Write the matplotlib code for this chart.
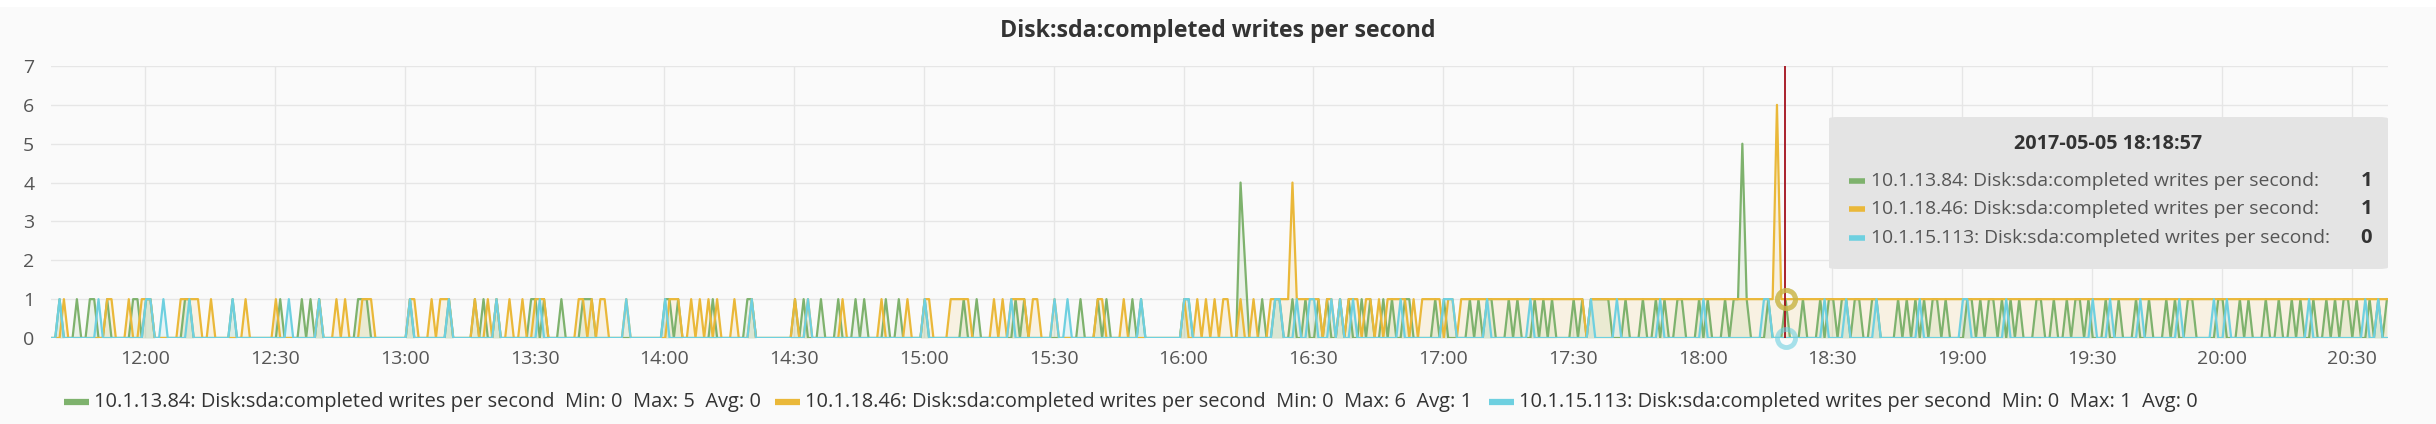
import numpy as np
import pandas as pd
import matplotlib
matplotlib.use('Agg')
import matplotlib.pyplot as plt
import matplotlib.dates as mdates
from matplotlib.patches import FancyBboxPatch, Rectangle
from matplotlib.lines import Line2D

plt.rcParams['font.family'] = ['Open Sans', 'DejaVu Sans']

W, H = 2436, 424
N = 541
START = '2017-05-05 11:38:10'
HOVER = '2017-05-05 18:18:57'
HOVER_IDX = 401

TITLE = 'Disk:sda:completed writes per second'
NAMES = ['10.1.13.84: Disk:sda:completed writes per second',
         '10.1.18.46: Disk:sda:completed writes per second',
         '10.1.15.113: Disk:sda:completed writes per second']
COLORS = ['#7eb26d', '#eab839', '#6ed0e0']
LEGEND_STATS = ['Min: 0  Max: 5  Avg: 0', 'Min: 0  Max: 6  Avg: 1', 'Min: 0  Max: 1  Avg: 0']
HOVER_VALUES = ['1', '1', '0']

# minute index (from 11:38) where the value is 1
green_ones = [2, 6, 9, 10, 13, 19, 20, 22, 23, 31, 32, 42, 53, 58, 60, 62, 71, 72, 73,
              83, 92, 98, 100, 103, 111, 112, 114, 118, 123, 124, 125, 142, 143, 145, 153,
              161, 162, 172, 174, 178, 182, 186, 188, 193, 196, 202, 211, 214, 223, 225,
              238, 242, 244, 250, 252, 262, 263, 280, 283, 284, 287, 290, 293, 295, 298,
              300, 303, 305, 308, 310, 313, 314, 320, 322, 328, 330, 332, 333, 337, 339,
              343, 345, 347, 352, 354, 356, 357, 358, 359, 360, 364, 368, 371, 373, 376,
              377, 381, 383, 387, 389, 390, 392, 397, 401, 405, 409, 411, 412, 414, 415,
              417, 418, 421, 422, 427, 429, 431, 433, 435, 436, 438, 443, 444, 446, 448,
              449, 451, 453, 455, 459, 460, 463, 466, 468, 469, 471, 475, 478, 482, 485,
              489, 491, 494, 495, 501, 502, 506, 508, 512, 515, 518, 520, 523, 526, 528,
              530, 531, 533, 536, 538, 540]
green_peaks = {275: 4, 276: 2, 391: 5}

orange_ones = [3, 13, 14, 18, 21, 22, 23, 30, 31, 32, 33, 34, 37, 45, 52, 62, 66, 68, 72,
               73, 74, 83, 84, 88, 90, 91, 92, 98, 101, 103, 106, 109, 112, 113, 114, 122,
               123, 125, 127, 128, 133, 143, 144, 145, 148, 150, 152, 154, 158, 162, 172,
               175, 183, 192, 198, 202, 203, 208, 209, 210, 211, 212, 218, 220, 222, 223,
               224, 225, 227, 228, 232, 242, 243, 248, 262, 265, 267, 269, 271, 272, 275,
               278]
orange_spans = [(282, 540)]
orange_zeros = [294, 297, 299, 303, 306, 308, 314, 316, 322, 325, 355]
orange_peaks = {287: 4, 399: 6}

cyan_ones = [2, 11, 22, 23, 26, 32, 42, 55, 62, 83, 92, 103, 113, 133, 142, 162, 175, 202,
             222, 232, 235, 252, 262, 263, 283, 284, 288, 291, 292, 296, 298, 301, 312, 322,
             323, 324, 332, 342, 356, 362, 372, 382, 396, 397, 410, 415, 422, 432, 442, 443,
             452, 472, 476, 483, 492, 500, 503, 522, 535, 538]


def build(ones, spans=(), zeros=(), peaks=None):
    v = np.zeros(N)
    for a, b in spans:
        v[a:b + 1] = 1
    v[ones] = 1
    v[list(zeros)] = 0
    for k, p in (peaks or {}).items():
        v[k] = p
    return v


series = [build(green_ones, peaks=green_peaks),
          build(orange_ones, orange_spans, orange_zeros, orange_peaks),
          build(cyan_ones)]
times = pd.date_range(START, periods=N, freq='60s')


def fx(px):
    return px / W


def fy(py):
    return 1 - py / H


fig = plt.figure(figsize=(W / 100, H / 100), dpi=100, facecolor='#fafafa')
renderer = fig.canvas.get_renderer()


def fit(texts, target_px):
    # scale font so the first text spans target_px, same size for the rest
    w = texts[0].get_window_extent(renderer).width
    size = texts[0].get_fontsize() * target_px / w
    for t in texts:
        t.set_fontsize(size)


fig.patches.append(Rectangle((0, fy(7)), 1, 7 / H, transform=fig.transFigure,
                             facecolor='white', edgecolor='none'))

ax = fig.add_axes([fx(51), fy(338), fx(2388) - fx(51), fy(66) - fy(338)])
ax.set_facecolor('#fafafa')

for v, c in zip(series, COLORS):
    ax.fill_between(times, 0, v, color=c, alpha=0.12, lw=0)
    ax.plot(times, v, color=c, lw=1.6)

ax.set_xlim(pd.Timestamp('2017-05-05 11:38:11'), pd.Timestamp('2017-05-05 20:38:25'))
ax.set_ylim(0, 7)
ax.set_yticks(range(8))
ax.xaxis.set_major_locator(mdates.MinuteLocator(byminute=[0, 30]))
ax.xaxis.set_major_formatter(mdates.DateFormatter('%H:%M'))
ax.grid(True, color='#e6e6e6', lw=1.0)
ax.set_axisbelow(True)
for s in ax.spines.values():
    s.set_visible(False)
ax.tick_params(length=0, labelsize=14, colors='#555555')
ax.tick_params(axis='x', pad=9)
ax.tick_params(axis='y', pad=12)

# hover line and points
ht = pd.Timestamp(HOVER)
ax.axvline(ht, color='#a3101c', lw=1.3)
for v, c in zip(series, COLORS):
    ax.plot(times[HOVER_IDX], v[HOVER_IDX], 'o', ms=13, mfc='none', mec=c, mew=3.5,
            alpha=0.6, clip_on=False)

title = fig.text(0.5, fy(31), TITLE, ha='center', va='center', fontsize=17,
                 fontweight='bold', color='#333333')
fit([title], 437)

# legend
leg_texts = []
for dx, name, stats, c in zip([64, 775, 1489], NAMES, LEGEND_STATS, COLORS):
    fig.lines.append(Line2D([fx(dx), fx(dx + 25)], [fy(402), fy(402)], transform=fig.transFigure,
                            color=c, lw=4.5, solid_capstyle='butt'))
    leg_texts.append(fig.text(fx(dx + 30), fy(402), name + '  ' + stats, ha='left',
                              va='center', fontsize=16, color='#333333'))
fit(leg_texts, 664)

# tooltip
fig.patches.append(FancyBboxPatch((fx(1829), fy(269)), fx(2388) - fx(1829), fy(117) - fy(269),
                                  boxstyle='round,pad=0,rounding_size=0.004',
                                  transform=fig.transFigure, facecolor='#e4e4e4',
                                  edgecolor='none', zorder=5))
tip_title = fig.text(fx(2108), fy(144), '2017-05-05 18:18:57', ha='center', va='center',
                     fontsize=14, fontweight='bold', color='#333333', zorder=6)
fit([tip_title], 189)
row_texts = []
val_texts = []
for ry, name, val, c in zip([181, 209, 238], NAMES, HOVER_VALUES, COLORS):
    fig.lines.append(Line2D([fx(1849), fx(1865)], [fy(ry), fy(ry)], transform=fig.transFigure,
                            color=c, lw=4, solid_capstyle='butt', zorder=6))
    row_texts.append(fig.text(fx(1871), fy(ry), name + ':', ha='left', va='center',
                              fontsize=15, color='#555555', zorder=6))
    val_texts.append(fig.text(fx(2372), fy(ry), val, ha='right', va='center',
                              fontweight='bold', color='#333333', zorder=6))
fit(row_texts, 446)
for t in val_texts:
    t.set_fontsize(row_texts[0].get_fontsize() * 1.05)

fig.savefig('out.png', dpi=100, facecolor=fig.get_facecolor())
